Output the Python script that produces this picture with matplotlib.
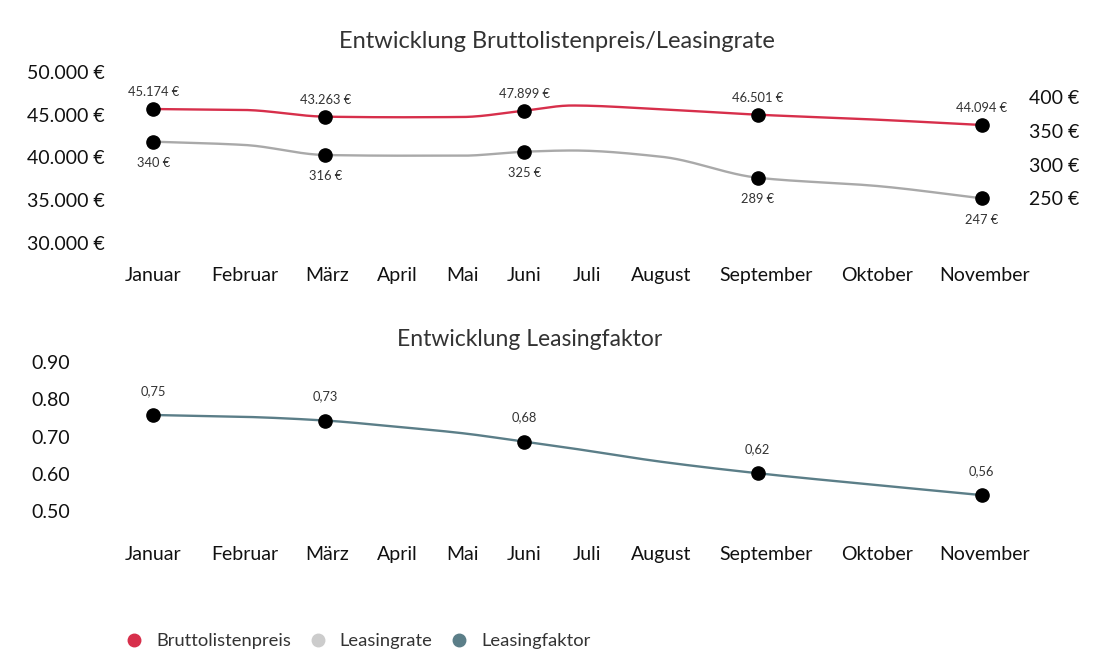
import numpy as np
import matplotlib
matplotlib.use("Agg")
import matplotlib.pyplot as plt
from matplotlib.lines import Line2D

plt.rcParams['font.family'] = ['Lato', 'DejaVu Sans']

months = ['Januar', 'Februar', 'März', 'April', 'Mai', 'Juni', 'Juli',
          'August', 'September', 'Oktober', 'November']

# monthly series
brutto = [45650, 45540, 44760, 44690, 44720, 45460, 46060, 45620, 44990, 44410, 43790]
leasingrate = [334.1, 329.2, 314.3, 313.3, 313.3, 319.2, 321.0, 311.8, 280.6, 268.3, 250.0]
leasingfaktor = [0.758, 0.753, 0.743, 0.726, 0.709, 0.686, 0.668, 0.632, 0.601, 0.569, 0.542]

# months that carry a marker + value label
marked = [0, 2, 5, 8, 10]
brutto_labels = ['45.174 €', '43.263 €', '47.899 €', '46.501 €', '44.094 €']
rate_labels = ['340 €', '316 €', '325 €', '289 €', '247 €']
faktor_labels = ['0,75', '0,73', '0,68', '0,62', '0,56']

left_ticks = [30000, 35000, 40000, 45000, 50000]
left_ticklabels = ['30.000 €', '35.000 €', '40.000 €', '45.000 €', '50.000 €']
right_ticks = [250, 300, 350, 400]
right_ticklabels = ['250 €', '300 €', '350 €', '400 €']
faktor_ticks = [0.5, 0.6, 0.7, 0.8, 0.9]
faktor_ticklabels = ['0.50', '0.60', '0.70', '0.80', '0.90']

# layout: the month axis is not evenly spaced (labels sit with equal gaps),
# so positions along it are given in pixel units of the axes
AX_X0, AX_X1 = 111.4, 1026.6
MONTH_X = [153.3, 244.7, 325.3, 397.5, 462.0, 524.3, 572.0, 661.0, 757.7, 877.0, 981.7]
TICK_X = [153.5, 244.7, 327.5, 397.5, 462.0, 524.5, 587.0, 661.0, 766.0, 877.0, 985.0]

RED = '#d72f4b'
GREY = '#a9a9a9'
GREY_LEGEND = '#cccccc'
TEAL = '#5b7e88'
TEXT = '#333333'
TICK = '#111111'


def monotone(x, y, n=30):
    """Monotone cubic (Fritsch-Carlson) path for drawing a smooth line."""
    x = np.asarray(x, float)
    y = np.asarray(y, float)
    h = np.diff(x)
    d = np.diff(y) / h
    m = np.zeros_like(y)
    m[0], m[-1] = d[0], d[-1]
    for i in range(1, len(y) - 1):
        if d[i - 1] * d[i] <= 0:
            m[i] = 0
        else:
            m[i] = 3 * (h[i - 1] + h[i]) / ((2 * h[i] + h[i - 1]) / d[i - 1] + (h[i] + 2 * h[i - 1]) / d[i])
    xs, ys = [], []
    for i in range(len(x) - 1):
        t = np.linspace(0, 1, n, endpoint=(i == len(x) - 2))
        h00 = 2 * t**3 - 3 * t**2 + 1
        h10 = t**3 - 2 * t**2 + t
        h01 = -2 * t**3 + 3 * t**2
        h11 = t**3 - t**2
        xs.append(x[i] + t * h[i])
        ys.append(h00 * y[i] + h10 * h[i] * m[i] + h01 * y[i + 1] + h11 * h[i] * m[i + 1])
    return np.concatenate(xs), np.concatenate(ys)


def clean(ax):
    for s in ax.spines.values():
        s.set_visible(False)
    ax.tick_params(length=0)
    ax.set_xlim(AX_X0, AX_X1)


def draw_series(ax, values, labels, color, dy, va):
    xs = np.array(MONTH_X)
    vals = np.array(values)
    sx, sy = monotone(xs, vals)
    ax.plot(sx, sy, color=color, lw=1.7, zorder=2, solid_capstyle='round')
    ax.plot(xs[marked], vals[marked], 'o', color='black', ms=9.5, zorder=3)
    for i, lab in zip(marked, labels):
        ax.annotate(lab, (xs[i], vals[i]), xytext=(0, dy), textcoords='offset points',
                    ha='center', va=va, fontsize=9.3, color=TEXT)


W, H = 1100, 665
fig = plt.figure(figsize=(W / 100, H / 100), dpi=100)
ax_l = AX_X0 / W
ax_w = (AX_X1 - AX_X0) / W

# ---- top chart ----
ax1 = fig.add_axes([ax_l, 1 - 243.3 / H, ax_w, (243.3 - 71.7) / H])
ax2 = ax1.twinx()
clean(ax1)
clean(ax2)

ax1.set_ylim(30000, 50000)
ax1.set_yticks(left_ticks)
ax1.set_yticklabels(left_ticklabels, fontsize=14, color=TICK)
ax1.tick_params(axis='y', pad=5)
ax1.set_xticks(TICK_X)
ax1.set_xticklabels(months, fontsize=14, color=TICK)
ax1.tick_params(axis='x', pad=17)

ax2.set_ylim(183.2, 438.0)
ax2.set_yticks(right_ticks)
ax2.set_yticklabels(right_ticklabels, fontsize=14, color=TICK)
ax2.tick_params(axis='y', pad=2)

draw_series(ax1, brutto, brutto_labels, RED, 8, 'bottom')
draw_series(ax2, leasingrate, rate_labels, GREY, -11, 'top')

fig.text(557 / W, 1 - 42 / H, 'Entwicklung Bruttolistenpreis/Leasingrate',
         ha='center', va='center', fontsize=17, color=TEXT)

# ---- bottom chart ----
ax3 = fig.add_axes([ax_l, 1 - 510.7 / H, ax_w, (510.7 - 362.3) / H])
clean(ax3)
ax3.set_ylim(0.5, 0.9)
ax3.set_yticks(faktor_ticks)
ax3.set_yticklabels(faktor_ticklabels, fontsize=14, color=TICK)
ax3.tick_params(axis='y', pad=30)
ax3.set_xticks(TICK_X)
ax3.set_xticklabels(months, fontsize=14, color=TICK)
ax3.tick_params(axis='x', pad=25.5)

draw_series(ax3, leasingfaktor, faktor_labels, TEAL, 13, 'bottom')

fig.text(530 / W, 1 - 340 / H, 'Entwicklung Leasingfaktor',
         ha='center', va='center', fontsize=16.5, color=TEXT)

# ---- legend ----
handles = [Line2D([], [], ls='', marker='o', ms=9, color=c)
           for c in (RED, GREY_LEGEND, TEAL)]
fig.legend(handles, ['Bruttolistenpreis', 'Leasingrate', 'Leasingfaktor'],
           loc='center left', bbox_to_anchor=(116 / W, 1 - 641 / H), ncol=3,
           frameon=False, fontsize=13.2, labelcolor=TEXT,
           handletextpad=0.7, columnspacing=0.95, handlelength=1.0, borderpad=0)

fig.savefig('out.png', dpi=100)
